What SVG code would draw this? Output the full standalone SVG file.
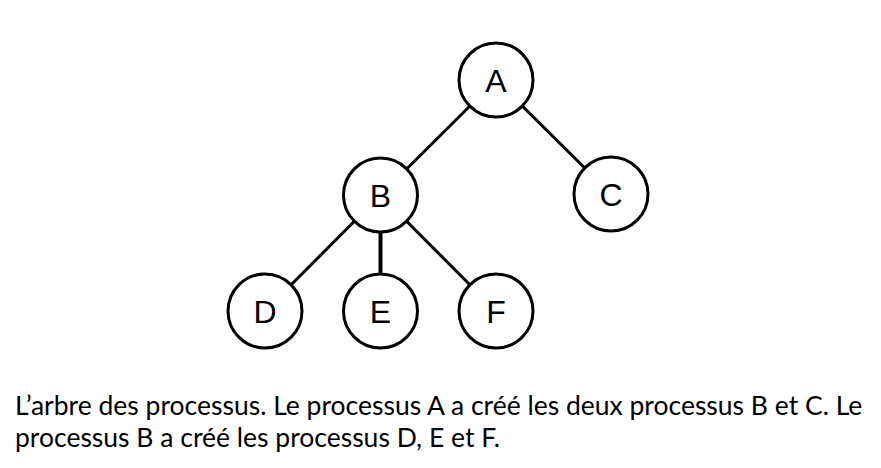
<svg xmlns="http://www.w3.org/2000/svg" width="881" height="468" viewBox="0 0 881 468">
<style>
.n circle{fill:#fff;stroke:#000;stroke-width:3}
.n text{font-family:"Liberation Sans",Arial,sans-serif;font-size:32px;text-anchor:middle;fill:#000}
.e line{stroke:#000;stroke-width:3}
.cap{font-family:Lato,"Noto Sans",sans-serif;font-size:26.5px;fill:#000}
</style>
<rect width="881" height="468" fill="#fff"/>
<g id="edges" class="e">
<line x1="496" y1="80" x2="380.5" y2="195"/>
<line x1="496" y1="80" x2="611" y2="194"/>
<line x1="380.5" y1="195" x2="265" y2="311"/>
<line x1="380.5" y1="195" x2="380.5" y2="311" style="stroke-width:4"/>
<line x1="380.5" y1="195" x2="496" y2="311"/>
</g>
<g id="A" class="n"><circle cx="496" cy="80" r="37"/><text x="496" y="91.5">A</text></g>
<g id="B" class="n"><circle cx="380.5" cy="195" r="37"/><text x="380.5" y="206.5">B</text></g>
<g id="C" class="n"><circle cx="611" cy="194" r="37"/><text x="611" y="205.5">C</text></g>
<g id="D" class="n"><circle cx="265" cy="311" r="37"/><text x="265" y="322.5">D</text></g>
<g id="E" class="n"><circle cx="380.5" cy="311" r="37"/><text x="380.5" y="322.5">E</text></g>
<g id="F" class="n"><circle cx="496" cy="311" r="37"/><text x="496" y="322.5">F</text></g>
<text class="cap" x="15" y="415">L’arbre des processus. Le processus A a créé les deux processus B et C. Le</text>
<text class="cap" x="15" y="447">processus B a créé les processus D, E et F.</text>
</svg>
